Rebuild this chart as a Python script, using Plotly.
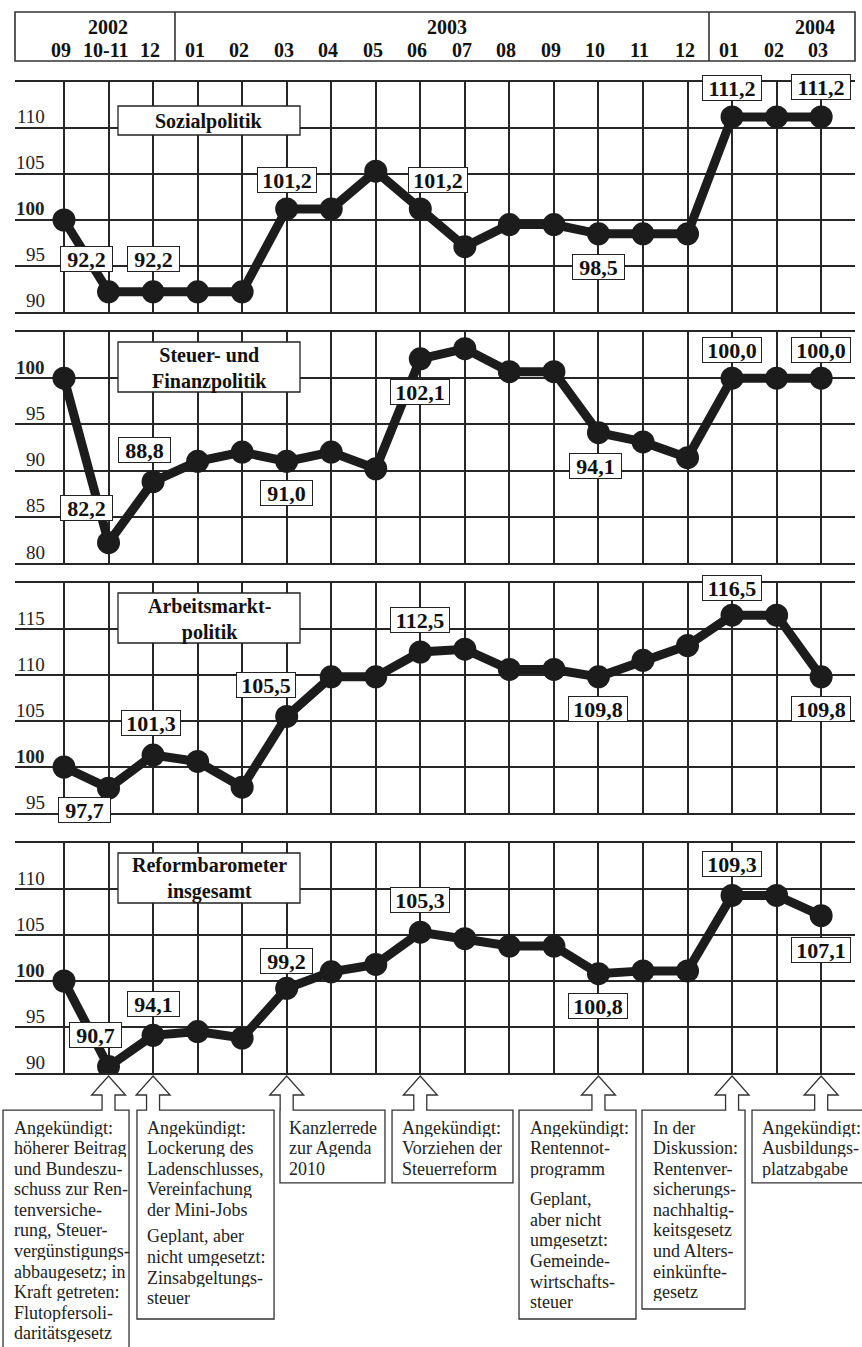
import plotly.graph_objects as go

W, H = 862, 1347

# ---------------- data ----------------
years = ["2002", "2003", "2004"]
months = ["09", "10-11", "12", "01", "02", "03", "04", "05", "06", "07", "08",
          "09", "10", "11", "12", "01", "02", "03"]
idx = list(range(len(months)))

sozial = [100, 92.2, 92.2, 92.2, 92.2, 101.2, 101.2, 105.3, 101.2, 97.1, 99.5,
          99.5, 98.5, 98.5, 98.5, 111.2, 111.2, 111.2]
steuer = [100, 82.2, 88.8, 91.0, 92.0, 91.0, 92.0, 90.2, 102.1, 103.2, 100.7,
          100.7, 94.1, 93.1, 91.4, 100.0, 100.0, 100.0]
arbeit = [100, 97.7, 101.3, 100.6, 97.8, 105.5, 109.8, 109.8, 112.5, 112.8, 110.6,
          110.6, 109.8, 111.6, 113.2, 116.5, 116.5, 109.8]
gesamt = [100, 90.7, 94.1, 94.5, 93.8, 99.2, 101.0, 101.8, 105.3, 104.6, 103.8,
          103.8, 100.8, 101.1, 101.1, 109.3, 109.3, 107.1]

titles = [["Sozialpolitik"], ["Steuer- und", "Finanzpolitik"],
          ["Arbeitsmarkt-", "politik"], ["Reformbarometer", "insgesamt"]]
series = [sozial, steuer, arbeit, gesamt]
y_ranges = [(90, 115), (80, 105), (95, 120), (90, 115)]
labeled_idx = [1, 2, 5, 8, 12, 15, 17]

event_idx = [1, 2, 5, 8, 12, 15, 17]
event_texts = [
    [["Angekündigt:", "höherer Beitrag", "und Bundeszu-", "schuss zur Ren-",
      "tenversiche-", "rung, Steuer-", "vergünstigungs-", "abbaugesetz; in",
      "Kraft getreten:", "Flutopfersoli-", "daritätsgesetz"]],
    [["Angekündigt:", "Lockerung des", "Ladenschlusses,", "Vereinfachung",
      "der Mini-Jobs"],
     ["Geplant, aber", "nicht umgesetzt:", "Zinsabgeltungs-", "steuer"]],
    [["Kanzlerrede", "zur Agenda", "2010"]],
    [["Angekündigt:", "Vorziehen der", "Steuerreform"]],
    [["Angekündigt:", "Rentennot-", "programm"],
     ["Geplant,", "aber nicht", "umgesetzt:", "Gemeinde-", "wirtschafts-", "steuer"]],
    [["In der", "Diskussion:", "Rentenver-", "sicherungs-", "nachhaltig-",
      "keitsgesetz", "und Alters-", "einkünfte-", "gesetz"]],
    [["Angekündigt:", "Ausbildungs-", "platzabgabe"]],
]

# ---------------- layout geometry (pixels) ----------------
SERIF = "Liberation Serif, Times New Roman, serif"
INK = "#1c1c1c"
GRID = "#262626"
X0, X1 = 15, 855
XR = (-1.10, 17.76)
panel_px = [(82, 312), (332, 563), (583, 813), (843, 1073)]

# label offsets (xshift, yshift) per panel for labeled_idx
label_offsets = [
    [(-22, 33), (0, 33), (0, 29), (18, 29), (0, -33), (0, 29), (0, 30)],
    [(-22, 35), (-9, 32), (0, -32), (0, -33), (-3, -33), (0, 28), (0, 28)],
    [(-24, -22), (-2, 32), (-21, 31), (0, 32), (0, -32), (0, 27), (0, -32)],
    [(-13, 32), (0, 31), (0, 27), (0, 32), (0, -32), (0, 31), (0, -34)],
]
title_boxes = [(106, 135), (342, 392), (593, 643), (853, 903)]

# event boxes: left, right, bottom, text-left, paragraph gap
event_boxes = [(3, 129, 1365, 12, 0), (137, 274, 1319, 145, 6), (280, 385, 1183, 287, 0),
               (392, 513, 1183, 400, 0), (519, 636, 1319, 528, 10),
               (642, 745, 1309, 651, 0), (752, 875, 1183, 760, 0)]


def px(x):
    return x / W


def py(y):
    return 1 - y / H


def idx_to_px(i):
    return X0 + (i - XR[0]) / (XR[1] - XR[0]) * (X1 - X0)


fig = go.Figure()
annotations = []
shapes = []

for k in range(4):
    n = "" if k == 0 else str(k + 1)
    top, bot = panel_px[k]
    lo, hi = y_ranges[k]
    fig.add_trace(go.Scatter(
        x=idx, y=series[k], mode="lines+markers",
        line=dict(color=INK, width=9),
        marker=dict(color=INK, size=23),
        xaxis="x" + n, yaxis="y" + n, hoverinfo="skip", showlegend=False))
    fig.layout["xaxis" + n] = dict(
        domain=[px(X0), px(X1)], range=list(XR), anchor="y" + n,
        tickvals=idx, showticklabels=False, ticks="",
        showgrid=True, gridcolor=GRID, gridwidth=1.6, zeroline=False,
        showline=True, mirror=True, linecolor=GRID, linewidth=1.6,
        fixedrange=True)
    fig.layout["yaxis" + n] = dict(
        domain=[py(bot), py(top)], range=[lo, hi], anchor="x" + n,
        tickvals=list(range(lo + 5, hi, 5)), showticklabels=False, ticks="",
        showgrid=True, gridcolor=GRID, gridwidth=1.6, zeroline=False,
        showline=False, fixedrange=True)

    # y-axis labels
    for v in range(lo, hi, 5):
        annotations.append(dict(
            xref="paper", x=px(47), xanchor="right",
            yref="y" + n, y=v, yanchor="middle", yshift=11,
            text=("<b>%d</b>" % v) if v == 100 else str(v), showarrow=False,
            font=dict(family=SERIF, size=19, color="#222")))

    # value labels
    for j, i in enumerate(labeled_idx):
        v = series[k][i]
        txt = ("%.1f" % v).replace(".", ",")
        dx, dy = label_offsets[k][j]
        annotations.append(dict(
            xref="x" + n, x=i, yref="y" + n, y=v, xshift=dx, yshift=dy,
            text="<b>%s</b>" % txt, showarrow=False,
            font=dict(family=SERIF, size=22, color="#111"),
            bgcolor="white", bordercolor="#222", borderwidth=1, borderpad=0,
            width=51 if len(txt) <= 4 else 58, height=24,
            xanchor="center", yanchor="middle"))

    # title box
    t0, t1 = title_boxes[k]
    shapes.append(dict(type="rect", xref="paper", yref="paper",
                       x0=px(118), x1=px(300), y0=py(t1), y1=py(t0),
                       fillcolor="white", line=dict(color="#222", width=1.3),
                       layer="above"))
    annotations.append(dict(
        xref="paper", x=px(209), yref="paper", y=py((t0 + t1) / 2 + 1),
        xanchor="center", yanchor="middle",
        text="<br>".join("<b>%s</b>" % s for s in titles[k]),
        showarrow=False, font=dict(family=SERIF, size=20, color="#111")))

# header
shapes.append(dict(type="rect", xref="paper", yref="paper",
                   x0=px(X0), x1=px(X1), y0=py(61), y1=py(12),
                   line=dict(color="#333", width=1.6), fillcolor="rgba(0,0,0,0)"))
for dv in (175, 709):
    shapes.append(dict(type="line", xref="paper", yref="paper",
                       x0=px(dv), x1=px(dv), y0=py(61), y1=py(12),
                       line=dict(color="#333", width=1.6)))
for yr, xx in zip(years, (108, 447, 815)):
    annotations.append(dict(xref="paper", x=px(xx), yref="paper", y=py(27),
                            xanchor="center", yanchor="middle",
                            text="<b>%s</b>" % yr, showarrow=False,
                            font=dict(family=SERIF, size=20, color="#111")))
for i, m in zip(idx, months):
    annotations.append(dict(xref="paper", x=px(idx_to_px(i) - 3), yref="paper", y=py(50),
                            xanchor="center", yanchor="middle",
                            text="<b>%s</b>" % m, showarrow=False,
                            font=dict(family=SERIF, size=20, color="#111")))

# event arrows and boxes
TIP, HB, TOPB = 1076, 1095, 1110
for i, paras, (l, r, b, tl, gap) in zip(event_idx, event_texts, event_boxes):
    a = idx_to_px(i)
    pts = [(l, TOPB), (a - 6.5, TOPB), (a - 6.5, HB), (a - 17, HB), (a, TIP),
           (a + 17, HB), (a + 6.5, HB), (a + 6.5, TOPB), (r, TOPB), (r, b), (l, b)]
    path = "M " + " L ".join("%.4f,%.4f" % (px(x), py(y)) for x, y in pts) + " Z"
    shapes.append(dict(type="path", xref="paper", yref="paper", path=path,
                       fillcolor="white", line=dict(color="#333", width=1.3)))
    yy = 1127
    for p_i, para in enumerate(paras):
        if p_i > 0:
            yy += gap
        for line in para:
            annotations.append(dict(xref="paper", x=px(tl), yref="paper", y=py(yy),
                                    xanchor="left", yanchor="middle", text=line,
                                    height=19, showarrow=False,
                                    font=dict(family=SERIF, size=18, color="#222")))
            yy += 20.6

fig.update_layout(
    width=W, height=H, margin=dict(l=0, r=0, t=0, b=0),
    paper_bgcolor="white", plot_bgcolor="white",
    showlegend=False, annotations=annotations, shapes=shapes)

fig.write_html("out.html", config={"displayModeBar": False},
               post_script="document.body.style.margin='0';document.body.style.padding='0';")
